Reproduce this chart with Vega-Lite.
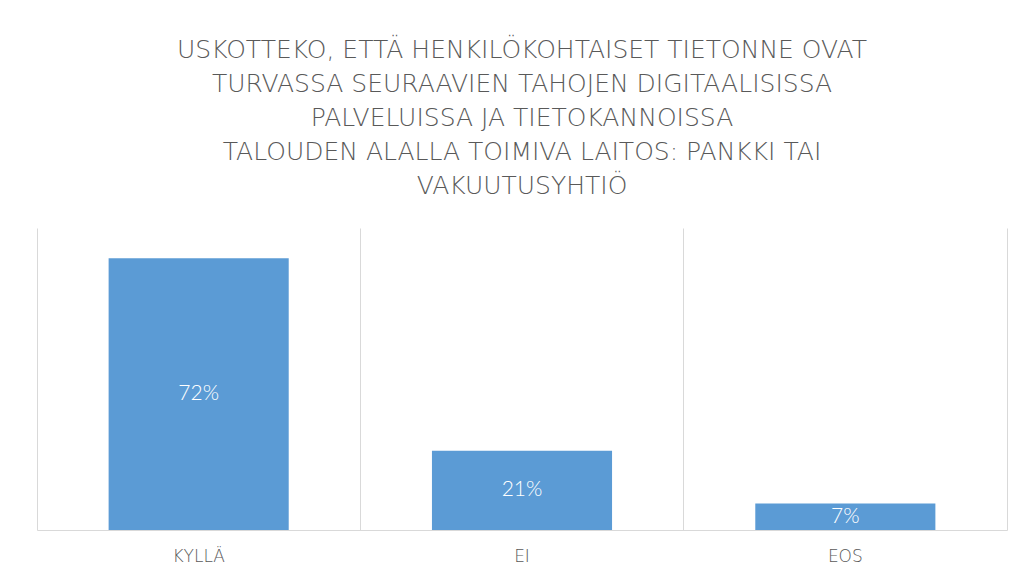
{
  "$schema": "https://vega.github.io/schema/vega-lite/v6.json",
  "width": 970,
  "height": 302,
  "autosize": {"type": "none"},
  "padding": {"left": 37, "top": 228, "right": 16, "bottom": 53},
  "background": "white",
  "config": {
    "view": {"stroke": null},
    "font": "Lato"
  },
  "title": {
    "text": [
      "USKOTTEKO, ETTÄ HENKILÖKOHTAISET TIETONNE OVAT",
      "TURVASSA SEURAAVIEN TAHOJEN DIGITAALISISSA",
      "PALVELUISSA JA TIETOKANNOISSA",
      "TALOUDEN ALALLA TOIMIVA LAITOS: PANKKI TAI",
      "VAKUUTUSYHTIÖ"
    ],
    "anchor": "middle",
    "frame": "group",
    "font": "DejaVu Sans",
    "fontSize": 25,
    "fontWeight": 200,
    "color": "#595959",
    "lineHeight": 34,
    "offset": 29
  },
  "data": {
    "values": [
      {"vastaus": "KYLLÄ", "osuus": 0.72},
      {"vastaus": "EI", "osuus": 0.21},
      {"vastaus": "EOS", "osuus": 0.07}
    ]
  },
  "encoding": {
    "x": {
      "field": "vastaus",
      "type": "nominal",
      "sort": null,
      "scale": {"paddingInner": 0, "paddingOuter": 0},
      "axis": {
        "title": null,
        "labelAngle": 0,
        "labelFontSize": 17,
        "labelColor": "#595959",
        "labelFont": "DejaVu Sans",
        "labelFontWeight": 200,
        "labelPadding": 18,
        "ticks": false,
        "domainColor": "#d9d9d9",
        "domainWidth": 1,
        "grid": true,
        "gridColor": "#d9d9d9",
        "gridWidth": 1,
        "bandPosition": 0
      }
    }
  },
  "layer": [
    {
      "mark": {"type": "bar", "color": "#5B9BD5", "width": {"band": 0.557}},
      "encoding": {
        "y": {
          "field": "osuus",
          "type": "quantitative",
          "scale": {"domain": [0, 0.8], "nice": false},
          "axis": {
            "orient": "right",
            "title": null,
            "labels": false,
            "ticks": false,
            "grid": false,
            "domain": true,
            "domainColor": "#d9d9d9"
          }
        }
      }
    },
    {
      "mark": {"type": "text", "color": "white", "fontSize": 21, "font": "Lato", "fontWeight": 300, "baseline": "middle", "align": "center"},
      "encoding": {
        "y": {
          "field": "osuus",
          "type": "quantitative",
          "scale": {"domain": [0, 1.6], "nice": false},
          "axis": null
        },
        "text": {"field": "osuus", "type": "quantitative", "format": ".0%"}
      }
    }
  ],
  "resolve": {"scale": {"y": "independent"}, "axis": {"y": "independent"}}
}
